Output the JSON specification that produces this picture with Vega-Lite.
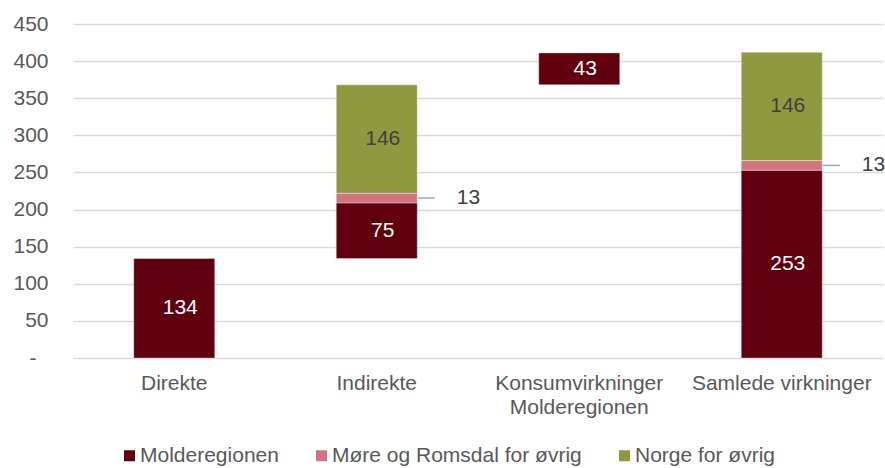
{
  "$schema": "https://vega.github.io/schema/vega-lite/v6.json",
  "autosize": "none",
  "width": 810,
  "height": 334,
  "padding": {"left": 73, "top": 24, "right": 2, "bottom": 110},
  "background": "white",
  "config": {
    "font": "Liberation Sans",
    "view": {"stroke": null},
    "axis": {"labelFont": "Liberation Sans", "labelColor": "#595959", "labelFontSize": 21},
    "axisY": {
      "title": null,
      "tickCount": 9,
      "ticks": false,
      "domain": false,
      "grid": true,
      "gridColor": "#d9d9d9",
      "gridWidth": 1.5,
      "labelPadding": {"condition": {"test": "datum.value == 0", "value": 37}, "value": 25},
      "labelOverlap": false,
      "labelExpr": "datum.value == 0 ? '-' : datum.label"
    }
  },
  "data": {
    "values": [
      {"kategori": "Direkte", "serie": "Molderegionen", "start": 0, "slutt": 134, "verdi": 134},
      {"kategori": "Indirekte", "serie": "Molderegionen", "start": 134, "slutt": 209, "verdi": 75},
      {"kategori": "Indirekte", "serie": "Møre og Romsdal for øvrig", "start": 209, "slutt": 222, "verdi": 13},
      {"kategori": "Indirekte", "serie": "Norge for øvrig", "start": 222, "slutt": 368, "verdi": 146},
      {"kategori": "Konsumvirkninger Molderegionen", "serie": "Molderegionen", "start": 368, "slutt": 411, "verdi": 43},
      {"kategori": "Samlede virkninger", "serie": "Molderegionen", "start": 0, "slutt": 253, "verdi": 253},
      {"kategori": "Samlede virkninger", "serie": "Møre og Romsdal for øvrig", "start": 253, "slutt": 266, "verdi": 13},
      {"kategori": "Samlede virkninger", "serie": "Norge for øvrig", "start": 266, "slutt": 412, "verdi": 146}
    ]
  },
  "encoding": {
    "x": {
      "field": "kategori",
      "type": "nominal",
      "sort": null,
      "scale": {"paddingInner": 0.6, "paddingOuter": 0.3},
      "axis": {
        "title": null,
        "labelAngle": 0,
        "ticks": false,
        "domain": false,
        "labelPadding": 14,
        "labelLineHeight": 24,
        "labelLimit": 400,
        "labelExpr": "datum.label == 'Konsumvirkninger Molderegionen' ? ['Konsumvirkninger', 'Molderegionen'] : datum.label"
      }
    }
  },
  "layer": [
    {
      "mark": {"type": "bar", "stroke": "#ffffff", "strokeWidth": 0.6, "strokeOpacity": 0.6},
      "encoding": {
        "y": {
          "field": "start",
          "type": "quantitative",
          "scale": {"domain": [0, 450], "nice": false}
        },
        "y2": {"field": "slutt"},
        "color": {
          "field": "serie",
          "type": "nominal",
          "scale": {
            "domain": ["Molderegionen", "Møre og Romsdal for øvrig", "Norge for øvrig"],
            "range": ["#60000e", "#d07580", "#8f9a40"]
          },
          "legend": {
            "title": null,
            "orient": "none",
            "direction": "horizontal",
            "legendX": 46,
            "legendY": 421,
            "padding": 0,
            "symbolType": "square",
            "symbolSize": 121,
            "symbolStrokeWidth": 0,
            "labelFontSize": 21,
            "labelFont": "Liberation Sans",
            "labelColor": "#595959",
            "labelLimit": 400,
            "labelOffset": 0,
            "columnPadding": 32
          }
        }
      }
    },
    {
      "transform": [
        {"filter": "datum.serie != 'Møre og Romsdal for øvrig'"},
        {"calculate": "(datum.start + datum.slutt) / 2", "as": "midt"}
      ],
      "mark": {"type": "text", "fontSize": 21, "dx": 6, "baseline": "middle"},
      "encoding": {
        "y": {"field": "midt", "type": "quantitative"},
        "text": {"field": "verdi", "type": "quantitative"},
        "color": {
          "condition": {"test": "datum.serie == 'Norge for øvrig'", "value": "#404040"},
          "value": "#ffffff"
        }
      }
    },
    {
      "transform": [
        {"filter": "datum.serie == 'Møre og Romsdal for øvrig'"},
        {"calculate": "(datum.start + datum.slutt) / 2", "as": "midt"}
      ],
      "mark": {"type": "rule", "color": "#a6a6a6", "strokeWidth": 1.5, "xOffset": 41, "x2Offset": 58},
      "encoding": {
        "x2": {"field": "kategori"},
        "y": {"field": "midt", "type": "quantitative"}
      }
    },
    {
      "transform": [
        {"filter": "datum.serie == 'Møre og Romsdal for øvrig'"},
        {"calculate": "(datum.start + datum.slutt) / 2", "as": "midt"}
      ],
      "mark": {"type": "text", "fontSize": 21, "dx": 80, "align": "left", "baseline": "middle", "color": "#404040"},
      "encoding": {
        "y": {"field": "midt", "type": "quantitative"},
        "text": {"field": "verdi", "type": "quantitative"}
      }
    }
  ]
}
